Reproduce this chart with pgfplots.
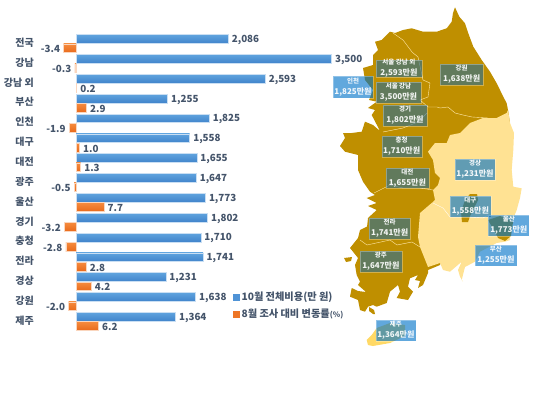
\documentclass[border=0pt]{standalone}
\usepackage{fontspec}
\usepackage{pgfplots}
\usepackage{pgfplotstable}
\pgfplotsset{compat=1.18}
\setmainfont{Noto Sans CJK KR}
\definecolor{txt}{HTML}{44546A}
\definecolor{bluetop}{HTML}{5FA3DE}
\definecolor{bluebot}{HTML}{4184CB}
\definecolor{bluebar}{HTML}{4F93D6}
\definecolor{orangetop}{HTML}{F58B3E}
\definecolor{orangebot}{HTML}{E96A1B}
\definecolor{orangebar}{HTML}{EE7626}
\definecolor{landdark}{HTML}{BF8F00}
\definecolor{landlight}{HTML}{FFE293}
\definecolor{jeju}{HTML}{FFD966}
\definecolor{boxdark}{RGB}{40,110,150}
\definecolor{boxblue}{RGB}{0,114,200}
\pgfplotstableread{
i cost change
0 2086 -3.4
1 3500 -0.3
2 2593 0.2
3 1255 2.9
4 1825 -1.9
5 1558 1.0
6 1655 1.3
7 1647 -0.5
8 1773 7.7
9 1802 -3.2
10 1710 -2.8
11 1741 2.8
12 1231 4.2
13 1638 -2.0
14 1364 6.2
}\datatab
\newcommand{\mapbox}[7][boxdark]{% colour, x0 x1 y0 y1 name value
  \draw[fill=#1,fill opacity=0.62,draw=white,draw opacity=0.3,line width=0.4pt] (axis cs:#2,#4) rectangle (axis cs:#3,#5);
  \node[text=white,font=\bfseries,align=center,inner sep=0pt,text opacity=0.92] at (axis cs:{(#2+#3)/2},{(#4+#5)/2}) {{\fontsize{6.5}{8}\selectfont #6}\\[-1pt]{\fontsize{8}{9.5}\selectfont #7}};
}
\begin{document}
\begin{tikzpicture}
\path[use as bounding box] (0,0) rectangle (550pt,407pt);
% Map, in picture pixels
\begin{axis}[hide axis,scale only axis,width=550pt,height=407pt,xmin=0,xmax=550,ymin=0,ymax=407,y dir=reverse,clip=false]
\addplot[fill=landdark,draw=none] coordinates {
(455,7.3)(459.3,16.7)(465,23.3)(468.3,33.3)(473.3,46.7)(481.7,60)(490,71.7)(496.7,83.3)(503.3,96.7)(506.7,103.3)(508.3,111.7)
(510,123)(496,160)(470,200)(440,265)(428,270)(428,273)(423,285)(418,288)(420,281)(415,280)(418,275)(410,278.3)(408,286.7)(413,291.7)(408,300)(396.7,298)(400,291.7)(398,285)(390,291.7)(386.7,303)(376.7,306.7)(373,305)(368,306.7)(365,311.7)(360,310)
(358,300)(350,296.7)(351.7,288)(358,291)(366,292)(358,285)(360,281.7)(356.7,275)(355,265)(358,258)(350,248)(358,238)(360,230)(370,225)
(366.7,230)(368,218)(376.7,210)(368,206)(376.7,203)(366.7,198)(375,195)(370,191.7)(363,181.7)(358,170)(358,155)(350,153)(345,151.7)(340,146)(345,138)(343,133)(351.7,133)(361.7,131.7)(365,121.7)(373,125)(380,131)(371.7,115)(375,110)
(368,108)(376.7,101.7)(369,100)(373,90)(365,80)(363,68)(373,65)(373,55)(378,50)(375,41.7)(381.7,40)(390,31.7)(395,33)(403,30)(411.7,28.3)(423,31.7)(436.7,31.7)(446.7,28.3)(451.7,21.7)(453,13)
} -- cycle;
\addplot[fill=landdark,draw=none] coordinates {(369,307)(374,310)(375,314)(373,314)(369,311)} -- cycle;
\addplot[fill=landdark,draw=none] coordinates {(344,258)(352,257)(351,261)(346,262)} -- cycle;
\addplot[fill=landlight,draw=none] coordinates {
(508,110)(510,123)(514,133)(513.3,150)(511.7,170)(513.3,186.7)(521.7,188.3)(520,198)(516.7,210)(514,216.7)(510,233)(510,240)(505,241.7)(496.7,243)(480,251.7)(475,261.7)(465,267)(461.7,280)(463,281.7)(460,276.7)(458,270)(461.7,261.7)(450,271.7)(443,270)(440,263)(428,267)
(420,247)(418,237)(420,213)(431.7,203)(435,200)(433,190)(438,185)(440,178)(435,173)(433,160)(428,151.7)(435,143)(446.7,143)(450,135)(460,133)(470,123)(483,118)(496.7,118)(506.7,113)
} -- cycle;
\addplot[fill=jeju,draw=none] coordinates {(366.7,340)(371.7,335)(376.7,328)(390,323)(405,325)(405,336)(390,343)(373,346)(368,345)} -- cycle;
\addplot[fill=landdark,draw=none] coordinates {(470,194)(477,194)(478,200)(470,216)(468,222)(462,222)(461,212)(465,200)} -- cycle;
\addplot[fill=landdark,draw=none] coordinates {(488,220)(500,216)(513,222)(511,236)(505,241)(498,238)(495,232)} -- cycle;
% Internal borders
\addplot[draw=landlight!80!white,line width=0.4pt] coordinates {(393,33)(403,40)(412,52)(418,57)(423,80)(430,83)(428,97)(420,100)(428,107)(437,107)(440,108)(448,107)(455,113)(463,115)(472,117)(488,118)};
\addplot[draw=landlight!80!white,line width=0.4pt] coordinates {(383,132)(403,128)(418,122)(427,113)};
\addplot[draw=landlight!80!white,line width=0.4pt] coordinates {(374,193)(380,190)(390,185)(403,188)(420,188)(433,190)};
\addplot[draw=landlight!80!white,line width=0.4pt] coordinates {(360,240)(367,245)(390,240)(397,245)(412,242)(420,247)};
\addplot[draw=white!90!landlight,line width=0.4pt] coordinates {(433,203)(443,208)(450,217)(470,217)(483,218)(488,215)};
\mapbox{376}{421.7}{60}{77.3}{서울 강남 외}{2,593만원}
\mapbox{376}{421}{81.7}{102.7}{서울 강남}{3,500만원}
\mapbox[boxblue]{332.7}{373.3}{76}{97.7}{인천}{1,825만원}
\mapbox{440}{483.3}{64}{85}{강원}{1,638만원}
\mapbox{383.3}{426.7}{105}{126}{경기}{1,802만원}
\mapbox{381.7}{421.7}{136}{156.7}{충청}{1,710만원}
\mapbox{385.7}{429}{168}{188}{대전}{1,655만원}
\mapbox[boxblue]{455}{495}{159}{180}{경상}{1,231만원}
\mapbox[boxblue]{450}{490.7}{196}{217.3}{대구}{1,558만원}
\mapbox[boxblue]{488.3}{529.3}{215}{236}{울산}{1,773만원}
\mapbox[boxblue]{475}{516.7}{245}{265.7}{부산}{1,255만원}
\mapbox{369.3}{410}{218.3}{239}{전라}{1,741만원}
\mapbox{360}{401.7}{250.7}{271.7}{광주}{1,647만원}
\mapbox[boxblue]{375.7}{416}{320}{341}{제주}{1,364만원}
\end{axis}
% Cost bars
\begin{axis}[scale only axis,width=550pt,height=407pt,
  xmin=-1041.1,xmax=6493.2,ymin=-1.966,ymax=18.548,y dir=reverse,clip=false,
  axis line style={draw=none},major tick length=0pt,xtick=\empty,
  ytick={0,...,14},yticklabels={전국,강남,강남 외,부산,인천,대구,대전,광주,울산,경기,충청,전라,경상,강원,제주},
  yticklabel style={anchor=east,xshift=34pt,yshift=-3.7pt,font=\fontsize{10}{12}\selectfont\bfseries,text=txt,inner sep=0pt},
  xbar,bar width=8.7pt,bar shift=0pt,
  nodes near coords,
  point meta=x,
  every node near coord/.append style={font=\fontsize{9.8}{11}\selectfont\bfseries,text=txt,yshift=-1pt,/pgf/number format/.cd,assume math mode=true,1000 sep={,},fixed},
  legend style={at={(0.4236,0.2696)},anchor=west,draw=none,fill=none,inner sep=0pt,font=\fontsize{10.2}{12}\selectfont\bfseries,text=txt},
]
\addlegendimage{legend image code/.code={\fill[bluebar] (0cm,-3pt) rectangle (6pt,3pt);}}
\addlegendentry{10월 전체비용(만 원)}
\pgfplotsinvokeforeach{0,...,14}{
\addplot[forget plot,top color=bluetop,bottom color=bluebot,draw=bluebar!30!white,line width=0.5pt,restrict y to domain=#1:#1] table[x=cost,y=i]{\datatab};
}
\end{axis}
% Change bars
\begin{axis}[scale only axis,width=550pt,height=407pt,
  xmin=-20.88,xmax=130.2,ymin=-1.966,ymax=18.548,y dir=reverse,clip=false,
  hide axis,
  xbar,bar width=8.7pt,bar shift=-9.3pt,
  nodes near coords,
  point meta=x,
  every node near coord/.append style={font=\fontsize{9.8}{11}\selectfont\bfseries,text=txt,yshift=-1pt,/pgf/number format/.cd,assume math mode=true,fixed,fixed zerofill,precision=1},
  legend style={at={(0.4236,0.2287)},anchor=west,draw=none,fill=none,inner sep=0pt,font=\fontsize{10.2}{12}\selectfont\bfseries,text=txt},
]
\addlegendimage{legend image code/.code={\fill[orangebar] (0cm,-3pt) rectangle (6pt,3pt);}}
\addlegendentry{8월 조사 대비 변동률{\fontsize{7.5}{9}\selectfont(\%)}}
\pgfplotsinvokeforeach{0,...,14}{
\addplot[forget plot,top color=orangetop,bottom color=orangebot,draw=orangebar!30!white,line width=0.5pt,restrict y to domain=#1:#1] table[x=change,y=i]{\datatab};
}
\end{axis}
\end{tikzpicture}
\end{document}
